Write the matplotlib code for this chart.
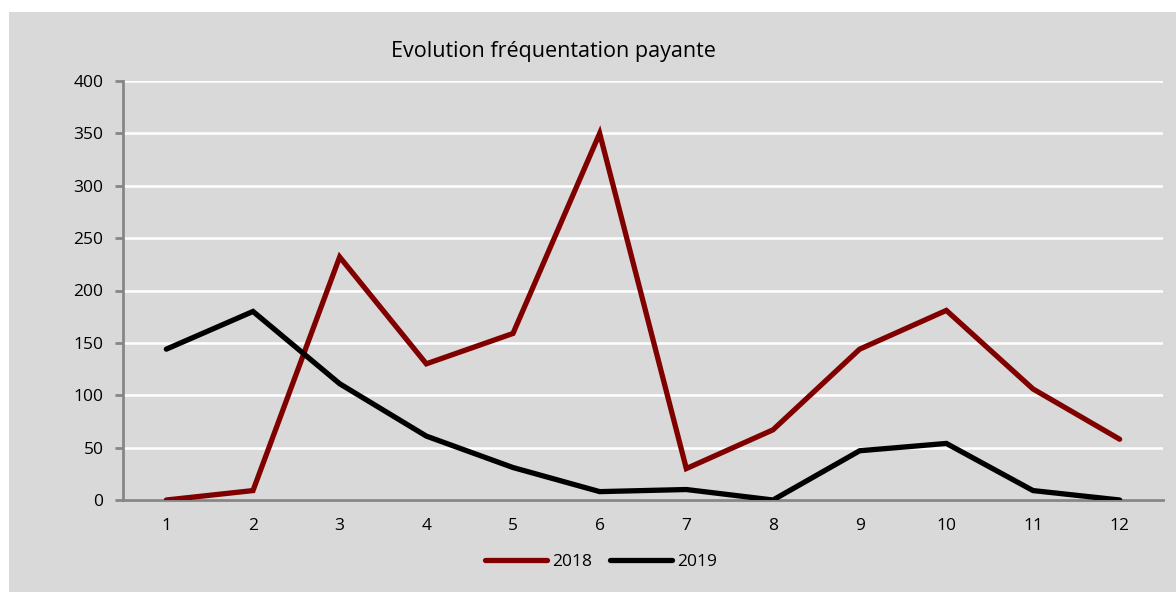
import matplotlib
matplotlib.use("Agg")
import matplotlib.pyplot as plt
from matplotlib.patches import Rectangle

months = [1, 2, 3, 4, 5, 6, 7, 8, 9, 10, 11, 12]
values_2018 = [0, 9, 232, 130, 159, 350, 30, 67, 144, 181, 106, 58]
values_2019 = [144, 180, 111, 61, 31, 8, 10, 0, 47, 54, 9, 0]
y_ticks = [0, 50, 100, 150, 200, 250, 300, 350, 400]

plt.rcParams['font.family'] = ['Open Sans', 'DejaVu Sans']

W, H = 1176, 592
fig = plt.figure(figsize=(W / 100, H / 100), dpi=100)
fig.patch.set_facecolor('white')
bg = '#d9d9d9'
fig.patches.append(Rectangle((9 / W, 0), 1 - 9 / W, 1 - 12 / H, transform=fig.transFigure,
                             facecolor=bg, edgecolor='none', zorder=-10))

left, right, top, bottom = 123, 1163, 81, 500
ax = fig.add_axes([left / W, 1 - bottom / H, (right - left) / W, (bottom - top) / H])
ax.set_facecolor(bg)

x = list(range(len(months)))
ax.plot(x, values_2018, color='#800000', lw=3.8, solid_capstyle='round', solid_joinstyle='miter', label='2018', zorder=3)
ax.plot(x, values_2019, color='black', lw=3.8, solid_capstyle='round', solid_joinstyle='miter', label='2019', zorder=3)

ax.set_xlim(-0.5, len(months) - 0.5)
ax.set_ylim(0, 400)
ax.set_yticks(y_ticks)
ax.set_yticklabels([str(v) for v in y_ticks], fontsize=12.5)
ax.set_xticks(x)
ax.set_xticklabels([str(m) for m in months], fontsize=12.5)
ax.grid(axis='y', color='white', lw=1.8, zorder=1)
ax.set_axisbelow(True)
for s in ['top', 'right']:
    ax.spines[s].set_visible(False)
ax.spines['left'].set_color('#868686')
ax.spines['bottom'].set_color('#868686')
ax.spines['left'].set_linewidth(2)
ax.spines['bottom'].set_linewidth(2)
ax.tick_params(axis='y', length=6, width=2, color='#868686', pad=8)
ax.tick_params(axis='x', length=0, pad=13)

fig.text(553 / W, 1 - 52 / H, 'Evolution fréquentation payante', ha='center', va='center', fontsize=15.5)

leg = fig.legend(loc='center', bbox_to_anchor=(601 / W, 1 - 562 / H), ncol=2, frameon=False,
                 fontsize=12.5, handlelength=3.6, handletextpad=0.3, columnspacing=1.0)

fig.savefig('out.png', dpi=100, facecolor='white')
